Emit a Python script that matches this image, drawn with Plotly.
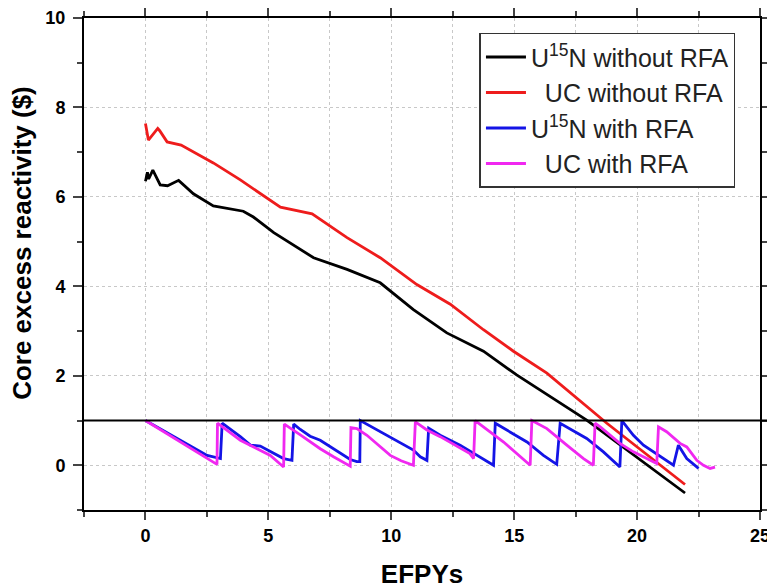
import plotly.graph_objects as go

# ---- data ----
u15n_no_rfa_x = [0, 0.08, 0.13, 0.30, 0.60, 0.90, 1.35, 1.95, 2.76, 3.46, 3.98, 4.39, 5.22, 6.84,
                 8.20, 9.55, 10.90, 12.26, 13.75, 15.10, 16.46, 17.95, 21.95]
u15n_no_rfa_y = [6.35, 6.55, 6.40, 6.60, 6.27, 6.25, 6.37, 6.07, 5.80, 5.73, 5.68, 5.55, 5.20, 4.64,
                 4.38, 4.08, 3.48, 2.96, 2.55, 2.02, 1.53, 1.01, -0.62]

uc_no_rfa_x = [0, 0.12, 0.50, 0.58, 0.88, 1.30, 1.45, 2.76, 3.86, 5.49, 6.78, 8.20, 9.55, 11.04,
               12.40, 13.75, 14.97, 16.33, 17.55, 18.77, 21.95]
uc_no_rfa_y = [7.64, 7.27, 7.53, 7.48, 7.23, 7.19, 7.16, 6.76, 6.38, 5.77, 5.62, 5.09, 4.64, 4.04,
               3.60, 3.03, 2.55, 2.06, 1.50, 0.94, -0.43]

u15n_rfa_x = [0, 2.51, 3.05, 3.12, 3.86, 4.27, 4.67, 5.08, 5.62, 5.96, 6.03, 6.30, 6.70, 7.11, 7.65,
              8.33, 8.60, 8.72, 8.74, 9.69, 10.37, 10.90, 11.18, 11.45, 11.52, 11.60, 11.99, 12.80,
              13.48, 14.16, 14.23, 15.52, 16.19, 16.73, 16.87, 17.95, 18.63, 19.30, 19.38, 19.85,
              20.26, 20.67, 21.20, 21.48, 21.68, 22.02, 22.50]
u15n_rfa_y = [1.00, 0.22, 0.15, 0.94, 0.64, 0.45, 0.43, 0.31, 0.15, 0.11, 0.92, 0.80, 0.65, 0.56, 0.37,
              0.13, 0.08, 0.08, 1.00, 0.71, 0.52, 0.34, 0.19, 0.11, 0.83, 0.80, 0.67, 0.45,
              0.22, 0.00, 0.94, 0.52, 0.22, 0.02, 0.94, 0.60, 0.30, -0.04, 1.00, 0.67,
              0.45, 0.30, 0.11, 0.00, 0.45, 0.15, -0.07]

uc_rfa_x = [0, 2.91, 2.93, 3.86, 4.40, 5.08, 5.62, 5.65, 6.30, 7.11, 7.65, 8.33, 8.36, 8.60, 9.01,
            9.96, 10.40, 10.90, 10.98, 11.45, 11.99, 13.20, 13.35, 13.41, 14.57, 15.24, 15.65,
            15.72, 16.33, 17.14, 17.82, 18.22, 18.29, 18.50, 19.30, 19.85, 20.53, 20.80, 20.87,
            21.20, 21.75, 22.02, 22.43, 22.70, 22.97, 23.17]
uc_rfa_y = [1.00, 0.02, 0.94, 0.56, 0.41, 0.22, -0.04, 0.92, 0.68, 0.37, 0.19, -0.02, 0.84, 0.82, 0.67,
            0.22, 0.10, 0.00, 0.97, 0.79, 0.64, 0.26, 0.15, 1.00, 0.52, 0.19, 0.00,
            1.00, 0.82, 0.45, 0.15, 0.00, 0.94, 0.86, 0.49, 0.30, 0.11, 0.04, 0.86,
            0.75, 0.49, 0.41, 0.11, 0.00, -0.07, -0.04]

threshold = 1.0

series_names = ["U<sup>15</sup>N without RFA", "  UC without RFA",
                "U<sup>15</sup>N with RFA", "  UC with RFA"]
series_colors = ["#000000", "#ee1c1c", "#1414e6", "#f028f0"]

x_tick_vals = [0, 5, 10, 15, 20, 25]
y_tick_vals = [0, 2, 4, 6, 8, 10]
x_title = "EFPYs"
y_title = "Core excess reactivity ($)"

FONT = "Liberation Sans, Arial, sans-serif"

fig = go.Figure()
for xs, ys, name, col in [
    (u15n_no_rfa_x, u15n_no_rfa_y, series_names[0], series_colors[0]),
    (uc_no_rfa_x, uc_no_rfa_y, series_names[1], series_colors[1]),
    (u15n_rfa_x, u15n_rfa_y, series_names[2], series_colors[2]),
    (uc_rfa_x, uc_rfa_y, series_names[3], series_colors[3]),
]:
    fig.add_trace(go.Scatter(x=xs, y=ys, mode="lines", name=name,
                             line=dict(color=col, width=2.8)))

fig.add_shape(type="line", xref="paper", yref="y", x0=0, x1=1.03, y0=threshold, y1=threshold,
              line=dict(color="black", width=2), layer="above")

# y-axis title placed as an annotation (it sits above the plot centre in the reference)
fig.add_annotation(text=y_title, xref="paper", yref="paper", x=0, y=0.543,
                   xanchor="center", yanchor="middle", xshift=-62, textangle=-90,
                   showarrow=False, font=dict(family=FONT, size=26, weight="bold", color="black"))

grid_col = "#c8c8c8"
fig.update_layout(
    width=775, height=588,
    margin=dict(l=76, r=23, t=10, b=86, autoexpand=False),
    paper_bgcolor="white", plot_bgcolor="white",
    font=dict(family=FONT, color="black"),
    showlegend=True,
    legend=dict(
        x=0.585, y=0.97, xanchor="left", yanchor="top",
        bgcolor="white", bordercolor="#333333", borderwidth=1.5,
        font=dict(family=FONT, size=25, color="#222222"),
        tracegroupgap=0, itemwidth=40,
    ),
    xaxis=dict(
        range=[-2.5, 25], tickvals=x_tick_vals, ticks="outside", ticklen=8, tickwidth=2,
        showline=True, linecolor="black", linewidth=2, mirror="ticks", automargin=False,
        showgrid=True, gridcolor=grid_col, griddash="dot", gridwidth=1, zeroline=False,
        minor=dict(dtick=2.5, tick0=0, ticks="outside", ticklen=5, tickwidth=2,
                   showgrid=True, gridcolor=grid_col, griddash="dot", gridwidth=1),
        tickfont=dict(family=FONT, size=18, weight="bold"),
        title=dict(text=x_title, font=dict(family=FONT, size=26, weight="bold"), standoff=20),
    ),
    yaxis=dict(
        range=[-1, 10], tickvals=y_tick_vals, ticks="outside", ticklen=9, tickwidth=2,
        ticklabelstandoff=4,
        showline=True, linecolor="black", linewidth=2, mirror="ticks", automargin=False,
        showgrid=True, gridcolor=grid_col, griddash="dot", gridwidth=1, zeroline=False,
        minor=dict(dtick=1, tick0=0, ticks="outside", ticklen=5, tickwidth=2, showgrid=False),
        tickfont=dict(family=FONT, size=18, weight="bold"),
    ),
)

fig.write_html("out.html")
